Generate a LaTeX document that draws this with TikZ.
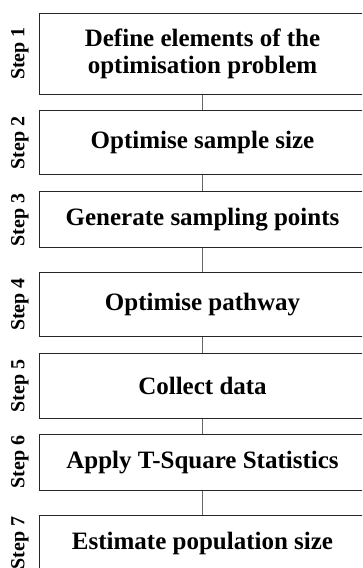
\documentclass[tikz,border=0pt]{standalone}
\usepackage{fontspec}
\setmainfont{Liberation Serif}
\usepackage{tikz}

\tikzset{
	stepbox/.style={draw=black!85,line width=1pt,minimum width=326pt,inner sep=0pt,align=center,
		font=\fontsize{25}{27}\selectfont\bfseries},
	steplabel/.style={rotate=90,inner sep=0pt,font=\fontsize{20}{22}\selectfont\bfseries},
	link/.style={draw=black!60,line width=1pt}
}

\begin{document}
\begin{tikzpicture}[x=1pt,y=-1pt]
	\useasboundingbox (0,0) rectangle (362,568);
	\clip (0,0) rectangle (362,568);
	% boxes
	\node[stepbox,minimum height=81pt] (s1) at (202.5,53.5) {Define elements of the\\optimisation problem};
	\node[stepbox,minimum height=64pt] (s2) at (202.5,142.8) {Optimise sample size};
	\node[stepbox,minimum height=56pt] (s3) at (202.5,219.8) {Generate sampling points};
	\node[stepbox,minimum height=64pt] (s4) at (202.5,304.5) {Optimise pathway};
	\node[stepbox,minimum height=65pt] (s5) at (202.5,385.8) {Collect data};
	\node[stepbox,minimum height=56pt] (s6) at (202.5,462.2) {Apply T-Square Statistics};
	\node[stepbox,minimum height=56pt] (s7) at (202.5,543) {Estimate population size};
	% step labels
	\foreach \i in {1,...,7}
		\node[steplabel] (l\i) at (s\i.west -| 20,0) {Step \i};
	% connectors
	\foreach \i/\j in {1/2,2/3,3/4,4/5,5/6,6/7}
		\draw[link] (s\i) -- (s\j);
\end{tikzpicture}
\end{document}
